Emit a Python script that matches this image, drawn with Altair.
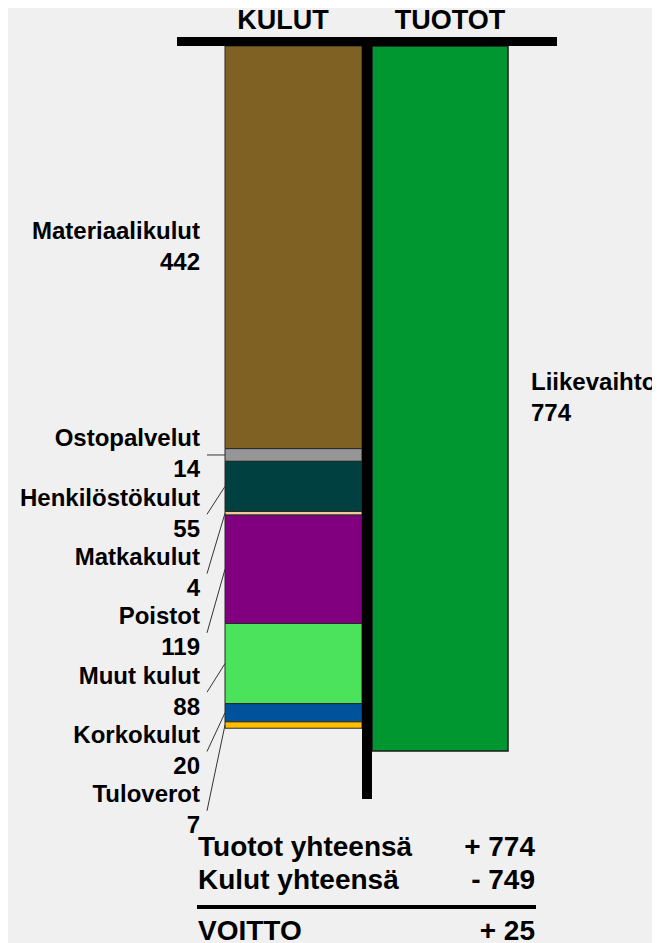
import altair as alt
import pandas as pd

# ---- data ----
kulut_names = ["Materiaalikulut", "Ostopalvelut", "Henkilöstökulut", "Matkakulut",
               "Poistot", "Muut kulut", "Korkokulut", "Tuloverot"]
kulut_values = [442, 14, 55, 4, 119, 88, 20, 7]
kulut_colors = ["#7f6123", "#969696", "#004040", "#f2c89e",
                "#800080", "#4ce35c", "#00529c", "#ffbf00"]
tuotot_names = ["Liikevaihto"]
tuotot_values = [774]
tuotot_colors = ["#009630"]
headers = ["KULUT", "TUOTOT"]
summary_labels = ["Tuotot yhteensä", "Kulut yhteensä", "VOITTO"]

# ---- layout (pixels, plot coordinates) ----
W, H = 644, 935
Y0 = 38                      # pixel of value 0
K = 705 / 774                # pixels per unit
FONT = "Liberation Sans"

total_t = sum(tuotot_values)
total_k = sum(kulut_values)
profit = total_t - total_k

# stacked kulut
rows = []
cum = 0
prev_c = None
spacing = 59.3 / K
for n, v, c in zip(kulut_names, kulut_values, kulut_colors):
    start, end = cum, cum + v
    mid = (start + end) / 2
    lc = mid if prev_c is None else max(mid, prev_c + spacing)
    rows.append(dict(name=n, value=v, start=start, end=end, mid=mid,
                     label_c=lc, vtxt=str(v), leader=v < 200))
    prev_c = lc
    cum = end
kdf = pd.DataFrame(rows)

tdf = pd.DataFrame(dict(name=tuotot_names, value=tuotot_values,
                        start=[0], end=tuotot_values,
                        mid=[v / 2 for v in tuotot_values],
                        vtxt=[str(v) for v in tuotot_values]))

yscale = alt.Scale(domain=[-Y0 / K, (H - Y0) / K], reverse=True, nice=False, zero=False)
allnames = kulut_names + tuotot_names
allcolors = kulut_colors + tuotot_colors
cscale = alt.Scale(domain=allnames, range=allcolors)

def Y(f):
    return alt.Y(f, type="quantitative", scale=yscale, axis=None)

kbars = alt.Chart(kdf).mark_bar(stroke="#262626", strokeWidth=1).encode(
    x=alt.value(217), x2=alt.value(354),
    y=Y("start"), y2="end",
    color=alt.Color("name:N", scale=cscale, legend=None))

tbars = alt.Chart(tdf).mark_bar(stroke="#1a1a1a", strokeWidth=1.5).encode(
    x=alt.value(364), x2=alt.value(500),
    y=Y("start"), y2="end",
    color=alt.Color("name:N", scale=cscale, legend=None))

leaders = alt.Chart(kdf).transform_filter("datum.leader").mark_rule(
    color="#333333", strokeWidth=1).encode(
    x=alt.value(199), x2=alt.value(217),
    y=Y("label_c"), y2="mid")

ktxt = dict(font=FONT, fontWeight="bold", fontSize=24, align="right",
            baseline="middle", color="black")
kname = alt.Chart(kdf).mark_text(dy=-15.5, **ktxt).encode(
    x=alt.value(192), y=Y("label_c"), text="name:N")
kval = alt.Chart(kdf).mark_text(dy=15.5, **ktxt).encode(
    x=alt.value(192), y=Y("label_c"), text="vtxt:N")

ttxt = dict(font=FONT, fontWeight="bold", fontSize=24, align="left",
            baseline="middle", color="black", clip=True)
tname = alt.Chart(tdf).mark_text(dy=-15.5, **ttxt).encode(
    x=alt.value(523), y=Y("mid"), text="name:N")
tval = alt.Chart(tdf).mark_text(dy=15.5, **ttxt).encode(
    x=alt.value(523), y=Y("mid"), text="vtxt:N")

topbar = alt.Chart().mark_rule(color="black", strokeWidth=9).encode(
    x=alt.value(169), x2=alt.value(549), y=alt.value(33.5))
vbar = alt.Chart().mark_rule(color="black", strokeWidth=10).encode(
    x=alt.value(359), y=alt.value(29), y2=alt.value(791))

htxt = dict(font=FONT, fontWeight="bold", fontSize=27, align="center",
            baseline="alphabetic", color="black")
h1 = alt.Chart().mark_text(text=headers[0], **htxt).encode(
    x=alt.value(275), y=alt.value(21.3))
h2 = alt.Chart().mark_text(text=headers[1], **htxt).encode(
    x=alt.value(442), y=alt.value(21.3))

stxt = dict(font=FONT, fontWeight="bold", fontSize=28, baseline="alphabetic", color="black")
sum_vals = [f"+ {total_t}", f"- {total_k}", f"+ {profit}" if profit >= 0 else f"- {-profit}"]
sum_y = [847.7, 881, 932]
summary = []
for lab, val, yy in zip(summary_labels, sum_vals, sum_y):
    summary.append(alt.Chart().mark_text(text=lab, align="left", **stxt).encode(
        x=alt.value(190), y=alt.value(yy)))
    summary.append(alt.Chart().mark_text(text=val, align="right", **stxt).encode(
        x=alt.value(527), y=alt.value(yy)))
sumline = alt.Chart().mark_rule(color="black", strokeWidth=4).encode(
    x=alt.value(189), x2=alt.value(528), y=alt.value(899))

chart = alt.layer(
    kbars, tbars, vbar, topbar, leaders, kname, kval, tname, tval, h1, h2,
    sumline, *summary
).properties(
    width=W, height=H, background="#f0f0f0", padding=0,
    autosize=alt.AutoSizeParams(type="none")
).configure_view(stroke=None)

chart.save("out.html", embed_options={"renderer": "svg", "actions": False})
